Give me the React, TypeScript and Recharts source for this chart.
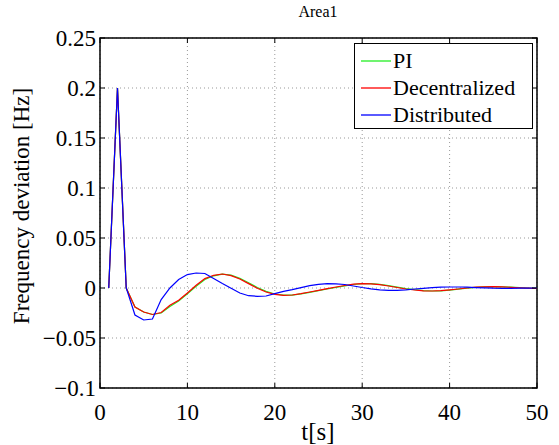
import { LineChart, Line, XAxis, YAxis, CartesianGrid, ReferenceArea } from 'recharts'

const time = [
  1, 2, 3, 4, 5, 6, 7, 8, 9, 10, 11, 12, 13, 14, 15, 16, 17, 18, 19, 20, 21, 22, 23, 24, 25,
  26, 27, 28, 29, 30, 31, 32, 33, 34, 35, 36, 37, 38, 39, 40, 41, 42, 43, 44, 45, 46, 47, 48, 49, 50,
]

const pi = [
  0, 0.2, 0, -0.019, -0.024, -0.0265, -0.025, -0.0185, -0.013, -0.0058, 0.0018, 0.0085, 0.0122, 0.0139,
  0.0128, 0.0096, 0.0052, 0.0005, -0.0034, -0.006, -0.0071, -0.0071, -0.0059, -0.0043, -0.0026,
  -0.001, 0.0005, 0.0021, 0.0035, 0.0043, 0.0043, 0.0036, 0.0024, 0.0009, -0.0005, -0.0017,
  -0.0026, -0.003, -0.0028, -0.0021, -0.0012, -0.0002, 0.0007, 0.0011, 0.0013, 0.0011, 0.0008,
  0.0003, -0.0001, -0.0004,
]

const decentralized = [
  0, 0.2, 0, -0.019, -0.024, -0.0265, -0.0245, -0.0173, -0.0123, -0.005, 0.0027, 0.0094, 0.0127,
  0.014, 0.0124, 0.009, 0.0044, -0.0003, -0.004, -0.0063, -0.0073, -0.007, -0.0056, -0.004, -0.0023,
  -0.0007, 0.001, 0.0025, 0.0038, 0.0044, 0.0042, 0.0033, 0.002, 0.0005, -0.001, -0.002, -0.0028,
  -0.003, -0.0027, -0.0019, -0.001, 0, 0.0008, 0.0012, 0.0013, 0.0011, 0.0007, 0.0002, -0.0002,
  -0.0005,
]

const distributed = [
  0, 0.2, 0, -0.027, -0.032, -0.031, -0.0116, 0.0, 0.0084, 0.0134, 0.015, 0.0145, 0.0094, 0.0044,
  -0.0003, -0.005, -0.0077, -0.0083, -0.008, -0.0056, -0.0033, -0.0017, 0.0004, 0.0024, 0.0037,
  0.0044, 0.0042, 0.0035, 0.002, 0.0005, -0.0008, -0.0018, -0.0023, -0.0023, -0.0018, -0.001,
  -0.0003, 0.0004, 0.0008, 0.001, 0.001, 0.0008, 0.0004, 0.0001, -0.0002, -0.0003, -0.0003, -0.0002,
  -0.0001, 0,
]

const xTicks = [0, 10, 20, 30, 40, 50]
const yTicks = [-0.1, -0.05, 0, 0.05, 0.1, 0.15, 0.2, 0.25]

const series = [
  { key: 'pi', name: 'PI', color: '#22ee22' },
  { key: 'decentralized', name: 'Decentralized', color: '#ff0000' },
  { key: 'distributed', name: 'Distributed', color: '#0000ff' },
]

const data = time.map((t, i) => ({
  t,
  pi: pi[i],
  decentralized: decentralized[i],
  distributed: distributed[i],
}))

const font = '"Liberation Serif", "Times New Roman", serif'
const W = 559
const H = 445
const left = 100
const right = 537
const top = 38
const bottom = 388

const fmtY = (v: number) => (v < 0 ? '\u2212' + String(-v) : String(v))

function YTick(props: any) {
  const { y, payload } = props
  return (
    <g>
      <line x1={left} x2={left + 5} y1={y} y2={y} stroke="#000" />
      <line x1={right - 5} x2={right} y1={y} y2={y} stroke="#000" />
      <text x={left - 4} y={y} dy={8} textAnchor="end" fontSize={23} style={{ fontFamily: font }} fill="#000">
        {fmtY(payload.value)}
      </text>
    </g>
  )
}

function XTick(props: any) {
  const { x, payload } = props
  return (
    <g>
      <line x1={x} x2={x} y1={bottom} y2={bottom - 5} stroke="#000" />
      <line x1={x} x2={x} y1={top} y2={top + 5} stroke="#000" />
      <text x={x} y={bottom + 32} textAnchor="middle" fontSize={23} style={{ fontFamily: font }} fill="#000">
        {payload.value}
      </text>
    </g>
  )
}

function LegendBox() {
  return (
    <div
      style={{
        position: 'absolute',
        left: 354,
        top: 43,
        width: 179,
        height: 86,
        border: '1px solid #000',
        background: '#fff',
        boxSizing: 'border-box',
        fontFamily: font,
        fontSize: 22,
        paddingTop: 3,
      }}
    >
      {series.map((s) => (
        <div key={s.key} style={{ display: 'flex', alignItems: 'center', height: 27 }}>
          <svg width={36} height={4} style={{ marginLeft: 6 }}>
            <line x1={0} x2={30} y1={2} y2={2} stroke={s.color} strokeWidth={1.3} />
          </svg>
          <span style={{ lineHeight: '27px', marginLeft: -4 }}>{s.name}</span>
        </div>
      ))}
    </div>
  )
}

export default function App() {
  return (
    <div style={{ position: 'absolute', left: 0, top: 0, width: W, height: H, background: '#fff' }}>
      <LineChart width={W} height={H} data={data} margin={{ top, right: W - right, left: 0, bottom: 0 }}>
        <CartesianGrid
          stroke="#999"
          strokeDasharray="1 3"
          horizontalValues={yTicks}
          verticalValues={xTicks}
        />
        <XAxis
          dataKey="t"
          type="number"
          domain={[0, 50]}
          ticks={xTicks}
          height={H - bottom}
          axisLine={false}
          tickLine={false}
          tick={<XTick />}
          interval={0}
        />
        <YAxis
          type="number"
          domain={[-0.1, 0.25]}
          ticks={yTicks}
          width={left}
          axisLine={false}
          tickLine={false}
          tick={<YTick />}
          interval={0}
        />
        <ReferenceArea x1={0} x2={50} y1={-0.1} y2={0.25} fill="none" stroke="#000" strokeWidth={1.5} ifOverflow="visible" />
        {series.map((s) => (
          <Line
            key={s.key}
            type="linear"
            dataKey={s.key}
            name={s.name}
            stroke={s.color}
            strokeWidth={1.2}
            dot={false}
            isAnimationActive={false}
          />
        ))}
        <text x={318} y={17} textAnchor="middle" fontSize={16} style={{ fontFamily: font }} fill="#000">
          Area1
        </text>
        <text x={318} y={440} textAnchor="middle" fontSize={25} style={{ fontFamily: font }} fill="#000">
          t[s]
        </text>
        <text
          x={29}
          y={206}
          transform="rotate(-90 29 206)"
          textAnchor="middle"
          fontSize={23}
          style={{ fontFamily: font }}
          fill="#000"
        >
          Frequency deviation [Hz]
        </text>
      </LineChart>
      <LegendBox />
    </div>
  )
}
